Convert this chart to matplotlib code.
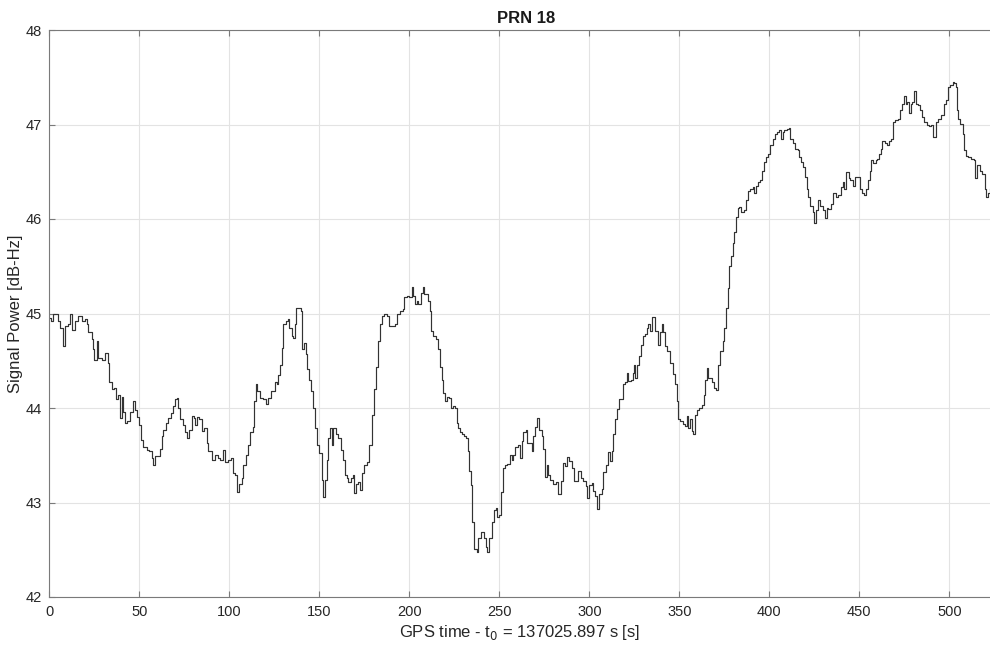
import matplotlib
matplotlib.use("Agg")
import matplotlib.pyplot as plt

plt.rcParams['font.family'] = ['Liberation Sans', 'DejaVu Sans']

# Time offsets [s] and signal power [dB-Hz]
t = [0, 1, 2.2, 5, 6, 7.4, 8.7, 10.6, 11.5, 12.4, 14.3, 16.1, 18, 19.8, 20.8, 21.7, 23.5, 24.5, 25, 26.3,
     27, 29, 30.9, 32.8, 33.4, 34.6, 35.9, 37, 38.4, 39.3, 40.2, 41.1, 42, 43.4, 44.8, 46.3, 47.6, 48.9,
     49.8, 50.8, 52.2, 54.1, 55.6, 56.9, 57.4, 58.7, 61.5, 62.4, 63.4, 64.8, 66.1, 67.4, 68.5, 69.8, 70.8,
     71.7, 72.6, 74.1, 75.4, 76.3, 77.8, 79.1, 80.4, 81.2, 81.9, 83.3, 85, 85.9, 87.4, 88.3, 90.2, 92, 93.9,
     94.8, 96.3, 97.6, 99.4, 100.7, 101.8, 103.1, 104, 105.5, 106.9, 107.8, 109.3, 110.6, 111.5, 113, 113.7,
     114.8, 115.6, 117, 118.9, 120.4, 121.7, 123, 125.4, 126.3, 127.2, 128.2, 129.1, 130, 131.5, 132.4,
     133.3, 134.6, 135.5, 136.5, 137, 139.8, 140.2, 141.5, 142.6, 143.3, 144.4, 145.4, 146.6, 147.6, 148.5,
     150, 151.3, 152.2, 153.1, 154.1, 155, 155.9, 156.8, 157.8, 159.2, 160.5, 161.8, 162.9, 164.2, 165.2,
     166.1, 167.4, 168.5, 169.3, 170.4, 171.7, 172.6, 173.5, 174.8, 176.3, 177.8, 179.1, 180.4, 181.5,
     182.8, 183.7, 184.6, 185.9, 187.4, 188.9, 192, 193.3, 194.8, 196.3, 197, 198.5, 200, 201.3, 202.2,
     203.2, 204.1, 205, 206.3, 207.4, 208.3, 210.6, 211.5, 212, 213.3, 214.8, 216.1, 217, 217.9, 218.9,
     219.8, 220.7, 222.2, 222.9, 224, 225.3, 226.3, 227.2, 228.1, 229, 230.3, 231.4, 232.4, 233.3, 234.2,
     235.1, 236.1, 237.4, 238.3, 240.1, 241.4, 242.5, 243.3, 244.4, 245.7, 247, 248.1, 248.9, 250, 250.7,
     251.9, 253.2, 254.4, 255.9, 256.8, 257.8, 258.7, 260.5, 261.5, 262.4, 263.3, 264.8, 265.5, 266.6,
     267.9, 268.9, 269.8, 271.1, 272.2, 273.5, 274.4, 275.4, 276.3, 277.2, 278.1, 280, 281.5, 282.8,
     284.1, 285.2, 286.5, 287.8, 288.9, 290.2, 291.5, 293.9, 295.2, 296.7, 298.1, 298.9, 300, 301.3,
     301.9, 303.1, 304.4, 305.6, 306.9, 307.8, 309.3, 310.6, 311.5, 312.4, 313.3, 314.3, 315.6, 316.7,
     317.4, 318.5, 319.8, 320.7, 321.7, 323, 324.1, 324.8, 325.6, 326.3, 327.8, 328.5, 329.6, 330.9,
     331.9, 332.8, 333.7, 334.6, 336.5, 338.3, 339.3, 340.2, 341.1, 342, 343, 344.8, 346.3, 347.6, 348.5,
     349.4, 350.4, 351.9, 353.1, 354.1, 355, 355.9, 356.8, 357.5, 358.7, 359.8, 361.1, 362.4, 363.5,
     364.4, 365.4, 366.1, 368, 369.1, 370.4, 371.3, 372.8, 374.1, 375, 375.9, 376.9, 377.8, 378.7, 379.6,
     380.6, 381.5, 382.4, 383.3, 384.3, 386.1, 387, 388, 389.4, 390.7, 391.7, 392.6, 393.9, 395, 395.7,
     396.9, 398.1, 399.4, 400.6, 401.9, 403.1, 404.3, 405.6, 406.5, 407.4, 408.3, 409.8, 411.1, 411.7,
     413, 414.3, 415.7, 416.7, 417.6, 418.5, 419.8, 420.9, 421.7, 422.8, 424.1, 425, 425.9, 426.9, 428.3,
     429.6, 431, 431.9, 432.8, 434.1, 435.6, 437.1, 438.4, 439.7, 440.9, 441.6, 442.7, 444, 445, 446.5,
     447.8, 450.2, 451.5, 452.8, 453.9, 454.7, 455.8, 456.5, 457.6, 459, 459.9, 460.8, 461.8, 462.7, 464,
     465.5, 466.4, 467.7, 468.8, 470.1, 471.5, 472.6, 473.9, 474.8, 475.7, 476.7, 477.6, 478.5, 479.5,
     480.4, 481.3, 482.6, 483.8, 485.1, 486, 487.5, 488.8, 489.7, 491.2, 492.5, 493.8, 495.3, 496.8,
     498.1, 499.1, 500.6, 501.9, 502.8, 503.7, 504.3, 505, 506.2, 507.5, 508.4, 509.3, 510.6, 512.1,
     513.6, 514.4, 515.5, 516.8, 518.1, 519.6, 520.5, 521.5, 522.4]

power = [44.95, 44.92, 45.0, 44.92, 44.85, 44.66, 44.87, 44.89, 45.0, 44.83, 44.92, 44.97, 44.92, 44.94, 44.89,
         44.8, 44.73, 44.62, 44.51, 44.71, 44.53, 44.51, 44.58, 44.48, 44.27, 44.2, 44.21, 44.09, 44.14, 43.89,
         44.12, 43.96, 43.84, 43.86, 43.96, 44.07, 43.98, 43.91, 43.82, 43.66, 43.59, 43.56, 43.54, 43.47,
         43.4, 43.49, 43.57, 43.7, 43.77, 43.84, 43.89, 43.95, 44.02, 44.09, 44.11, 44.0, 43.88, 43.82, 43.75,
         43.68, 43.77, 43.92, 43.89, 43.82, 43.91, 43.88, 43.76, 43.79, 43.63, 43.54, 43.45, 43.5, 43.47,
         43.45, 43.56, 43.43, 43.45, 43.47, 43.31, 43.29, 43.11, 43.2, 43.26, 43.4, 43.5, 43.61, 43.75, 43.8,
         44.07, 44.25, 44.18, 44.11, 44.09, 44.04, 44.11, 44.18, 44.28, 44.25, 44.35, 44.46, 44.64, 44.89,
         44.92, 44.94, 44.85, 44.76, 44.74, 44.89, 45.06, 45.03, 44.62, 44.69, 44.57, 44.41, 44.3, 44.18, 44.0,
         43.79, 43.61, 43.52, 43.24, 43.06, 43.24, 43.45, 43.68, 43.79, 43.61, 43.79, 43.73, 43.68, 43.56,
         43.45, 43.29, 43.26, 43.22, 43.26, 43.29, 43.1, 43.2, 43.22, 43.13, 43.31, 43.4, 43.43, 43.61, 43.93,
         44.2, 44.43, 44.71, 44.89, 44.97, 44.99, 44.97, 44.87, 44.89, 44.99, 45.03, 45.05, 45.17, 45.19,
         45.17, 45.28, 45.19, 45.1, 45.13, 45.1, 45.22, 45.28, 45.21, 45.13, 45.03, 44.82, 44.76, 44.73, 44.62,
         44.43, 44.3, 44.16, 44.07, 44.12, 44.11, 44.0, 44.02, 44.0, 43.84, 43.79, 43.75, 43.72, 43.7, 43.68,
         43.54, 43.33, 43.18, 42.79, 42.51, 42.48, 42.62, 42.69, 42.62, 42.53, 42.48, 42.62, 42.79, 42.92,
         42.94, 42.85, 42.87, 43.11, 43.36, 43.4, 43.41, 43.5, 43.45, 43.5, 43.59, 43.61, 43.47, 43.65, 43.75,
         43.77, 43.63, 43.63, 43.54, 43.7, 43.8, 43.89, 43.77, 43.7, 43.57, 43.27, 43.4, 43.29, 43.24, 43.2,
         43.22, 43.09, 43.23, 43.42, 43.39, 43.48, 43.44, 43.37, 43.23, 43.33, 43.26, 43.23, 43.17, 43.05,
         43.19, 43.21, 43.12, 43.07, 42.93, 43.09, 43.14, 43.32, 43.4, 43.53, 43.44, 43.55, 43.72, 43.88,
         43.99, 44.1, 44.09, 44.25, 44.27, 44.37, 44.29, 44.3, 44.37, 44.46, 44.32, 44.45, 44.55, 44.67,
         44.76, 44.78, 44.85, 44.89, 44.82, 44.96, 44.82, 44.67, 44.8, 44.89, 44.8, 44.66, 44.6, 44.48, 44.36,
         44.25, 44.07, 43.88, 43.86, 43.83, 43.81, 43.92, 43.79, 43.88, 43.76, 43.73, 43.93, 43.98, 44.0,
         44.03, 44.14, 44.3, 44.42, 44.32, 44.28, 44.21, 44.19, 44.46, 44.6, 44.71, 44.85, 45.06, 45.27, 45.5,
         45.61, 45.75, 45.86, 46.02, 46.12, 46.13, 46.07, 46.09, 46.2, 46.3, 46.32, 46.34, 46.28, 46.35, 46.39,
         46.41, 46.51, 46.6, 46.66, 46.69, 46.78, 46.85, 46.9, 46.92, 46.94, 46.85, 46.92, 46.94, 46.95, 46.96,
         46.85, 46.8, 46.74, 46.73, 46.66, 46.6, 46.55, 46.44, 46.32, 46.23, 46.14, 46.07, 45.96, 46.09, 46.2,
         46.14, 46.09, 46.01, 46.12, 46.11, 46.16, 46.27, 46.23, 46.25, 46.34, 46.39, 46.32, 46.5, 46.43,
         46.41, 46.35, 46.44, 46.32, 46.28, 46.25, 46.32, 46.41, 46.51, 46.62, 46.59, 46.62, 46.64, 46.69,
         46.74, 46.83, 46.8, 46.78, 46.83, 46.85, 47.03, 47.05, 47.06, 47.15, 47.22, 47.3, 47.22, 47.24,
         47.12, 47.22, 47.24, 47.35, 47.22, 47.21, 47.15, 47.08, 47.03, 46.99, 46.98, 46.99, 46.87, 47.03,
         47.06, 47.1, 47.22, 47.26, 47.4, 47.42, 47.45, 47.44, 47.4, 47.15, 47.06, 47.01, 46.9, 46.73, 46.67,
         46.66, 46.64, 46.62, 46.43, 46.57, 46.51, 46.48, 46.32, 46.23, 46.27, 46.32]

xticks = [0, 50, 100, 150, 200, 250, 300, 350, 400, 450, 500]
yticks = [42, 43, 44, 45, 46, 47, 48]

W, H = 990, 647
fig = plt.figure(figsize=(W / 100, H / 100), dpi=100)
left_px, right_px, top_px, bot_px = 49.3, 990, 30, 597
ax_w = right_px - left_px
ax = fig.add_axes([left_px / W, (H - bot_px) / H, ax_w / W, (bot_px - top_px) / H])

ax.plot(t, power, drawstyle='steps-post', color='#333333', linewidth=0.85)

ax.set_xlim(0, ax_w / 1.8)
ax.set_ylim(42, 48)
ax.set_xticks(xticks)
ax.set_yticks(yticks)
ax.grid(True, color='#e3e3e3', linewidth=0.8)
ax.set_axisbelow(True)

spine_col = '#7a7a7a'
for s in ['left', 'bottom', 'top']:
    ax.spines[s].set_color(spine_col)
    ax.spines[s].set_linewidth(0.8)
ax.spines['right'].set_visible(False)
ax.tick_params(direction='in', length=4, width=0.8, color=spine_col,
               labelsize=10.5, labelcolor='#262626', top=True, right=False)
ax.tick_params(axis='y', pad=5)
ax.tick_params(axis='x', pad=6)

ax.set_xlabel('GPS time - t$_0$ = 137025.897 s [s]', fontsize=12, color='#262626', labelpad=3)
ax.set_ylabel('Signal Power [dB-Hz]', fontsize=12, color='#262626')
ax.yaxis.set_label_coords((23 - left_px) / ax_w, 0.5)
ax.set_title('PRN 18', fontsize=12, fontweight='bold', color='#1a1a1a',
             x=(526 - left_px) / ax_w, pad=5)

fig.savefig('out.png', dpi=100)
